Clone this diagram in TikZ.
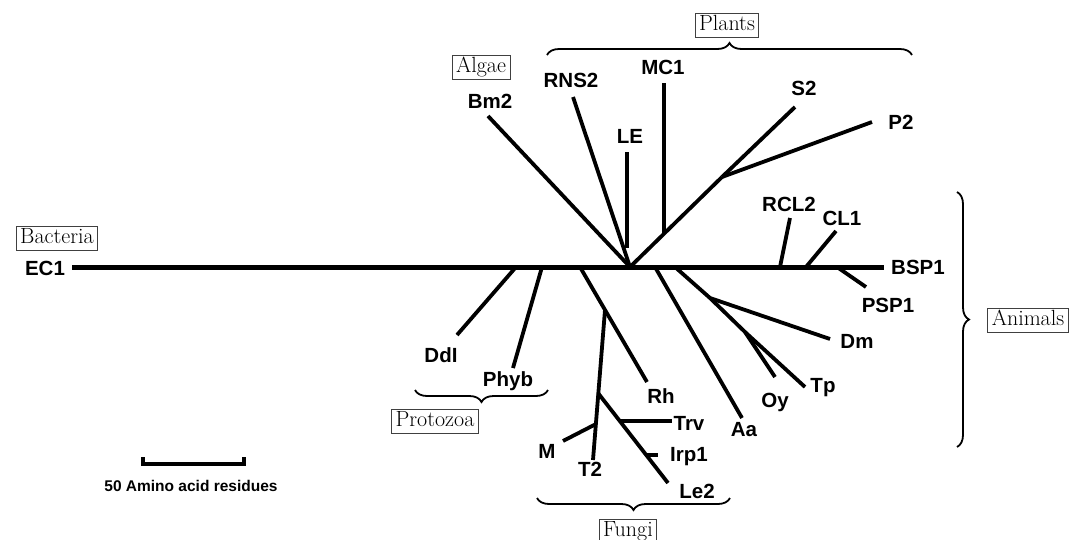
\documentclass[tikz,border=0pt]{standalone}
\usepackage{fontspec}
\newfontfamily\labfont{Liberation Sans}
\usetikzlibrary{decorations.pathreplacing}
\begin{document}
\begin{tikzpicture}[x=1pt,y=1pt,
  lab/.style={font=\labfont\bfseries\fontsize{20.5}{24}\selectfont, inner sep=0pt},
  grp/.style={draw=black!75, line width=0.8pt, font=\fontsize{22}{26}\selectfont,
    inner xsep=4pt, inner ysep=2pt, text height=15.5pt, text depth=4.5pt},
  br/.style={line width=3.8pt},
  mainbr/.style={line width=5pt},
  brc/.style={decorate, decoration={brace,amplitude=12pt}, line width=1.8pt}]
\useasboundingbox (0,0) rectangle (1072,-539);
% coordinates
\coordinate (ecend) at (72,-267);
\coordinate (bspend) at (884,-267);
\coordinate (hub) at (630,-267);
\coordinate (bmend) at (488,-116);
\coordinate (rnsend) at (573,-97);
\coordinate (letop) at (627,-152);
\coordinate (lebot) at (627,-248);
\coordinate (pbr) at (722,-177);
\coordinate (mcbot) at (664,-234);
\coordinate (mctop) at (664,-83);
\coordinate (s2end) at (795,-107);
\coordinate (p2end) at (872,-122);
\coordinate (rclbot) at (780,-267);
\coordinate (rcltop) at (790,-218);
\coordinate (clbot) at (806,-267);
\coordinate (cltop) at (836,-231);
\coordinate (pspbot) at (837,-267);
\coordinate (pspend) at (866,-287);
\coordinate (anbase) at (675,-267);
\coordinate (anbr) at (710,-298);
\coordinate (dmend) at (830,-339);
\coordinate (oybr) at (745,-332);
\coordinate (oyend) at (775,-377);
\coordinate (tpend) at (805,-387);
\coordinate (aabase) at (655,-267);
\coordinate (aaend) at (742,-418);
\coordinate (rhbase) at (580,-267);
\coordinate (rhend) at (647,-382);
\coordinate (fbr) at (605,-310);
\coordinate (t2end) at (593,-460);
\coordinate (mbr) at (596,-424);
\coordinate (mend) at (563,-441);
\coordinate (lebr) at (598,-393);
\coordinate (le2end) at (668,-483);
\coordinate (trvbr) at (620,-421);
\coordinate (trvend) at (672,-421);
\coordinate (irpbr) at (646,-455);
\coordinate (irpend) at (658,-455);
\coordinate (ddbase) at (516,-267);
\coordinate (ddend) at (457,-335);
\coordinate (phbase) at (542,-267);
\coordinate (phend) at (513,-368);
% main line
\draw[mainbr] (ecend) -- (bspend);
% branches
\draw[br] (hub) -- (bmend);
\draw[br] (hub) -- (rnsend);
\draw[br] (letop) -- (lebot);
\draw[br] (hub) -- (pbr);
\draw[br] (mctop) -- (mcbot);
\draw[br] (pbr) -- (s2end);
\draw[br] (pbr) -- (p2end);
\draw[br] (rclbot) -- (rcltop);
\draw[br] (clbot) -- (cltop);
\draw[br] (pspbot) -- (pspend);
\draw[br] (anbase) -- (anbr) -- (dmend);
\draw[br] (anbr) -- (oybr) -- (oyend);
\draw[br] (oybr) -- (tpend);
\draw[br] (aabase) -- (aaend);
\draw[br] (rhbase) -- (rhend);
\draw[br] (fbr) -- (t2end);
\draw[br] (mbr) -- (mend);
\draw[br] (lebr) -- (le2end);
\draw[br] (trvbr) -- (trvend);
\draw[br] (irpbr) -- (irpend);
\draw[br] (ddbase) -- (ddend);
\draw[br] (phbase) -- (phend);
% labels
\node[lab] (EC1) at (45,-268) {EC1};
\node[lab] (BSP1) at (918,-267) {BSP1};
\node[lab] (Bm2) at (490,-101) {Bm2};
\node[lab] (RNS2) at (571,-80) {RNS2};
\node[lab] (LE) at (630,-136) {LE};
\node[lab] (MC1) at (663,-67) {MC1};
\node[lab] (S2) at (804,-88) {S2};
\node[lab] (P2) at (901,-122) {P2};
\node[lab] (RCL2) at (789,-204) {RCL2};
\node[lab] (CL1) at (842,-218) {CL1};
\node[lab] (PSP1) at (888,-305) {PSP1};
\node[lab] (Dm) at (857,-341) {Dm};
\node[lab] (Tp) at (823,-388) {Tp};
\node[lab] (Oy) at (775,-402) {Oy};
\node[lab] (Aa) at (744,-430) {Aa};
\node[lab] (Rh) at (661,-396) {Rh};
\node[lab] (Trv) at (689,-423) {Trv};
\node[lab] (Irp1) at (689,-457) {Irp1};
\node[lab] (Le2) at (697,-491) {Le2};
\node[lab] (T2) at (590,-469) {T2};
\node[lab] (M) at (547,-451) {M};
\node[lab] (DdI) at (441,-355) {DdI};
\node[lab] (Phyb) at (508,-381) {Phyb};
% group boxes
\node[grp] (bacteria) at (57,-238) {Bacteria};
\node[grp] (algae) at (481,-67) {Algae};
\node[grp] (plants) at (727,-25) {Plants};
\node[grp] (protozoa) at (435,-421) {Protozoa};
\node[grp] (fungi) at (628,-531) {Fungi};
\node[grp] (animals) at (1028,-320) {Animals};
% braces
\draw[brc] (547,-55) -- (912,-55);
\draw[brc] (548,-390) -- (415,-390);
\draw[brc] (730,-498) -- (537,-498);
\draw[brc] (957,-192) -- (957,-447);
% scale bar
\coordinate (sa) at (143,-457);
\coordinate (sb) at (244,-457);
\draw[line width=3.5pt] (sa) -- ++(0,-7) -| (sb);
\node[font=\labfont\bfseries\fontsize{15.5}{18}\selectfont, inner sep=0pt] (scalelab) at (191,-486) {50 Amino acid residues};
\end{tikzpicture}
\end{document}
